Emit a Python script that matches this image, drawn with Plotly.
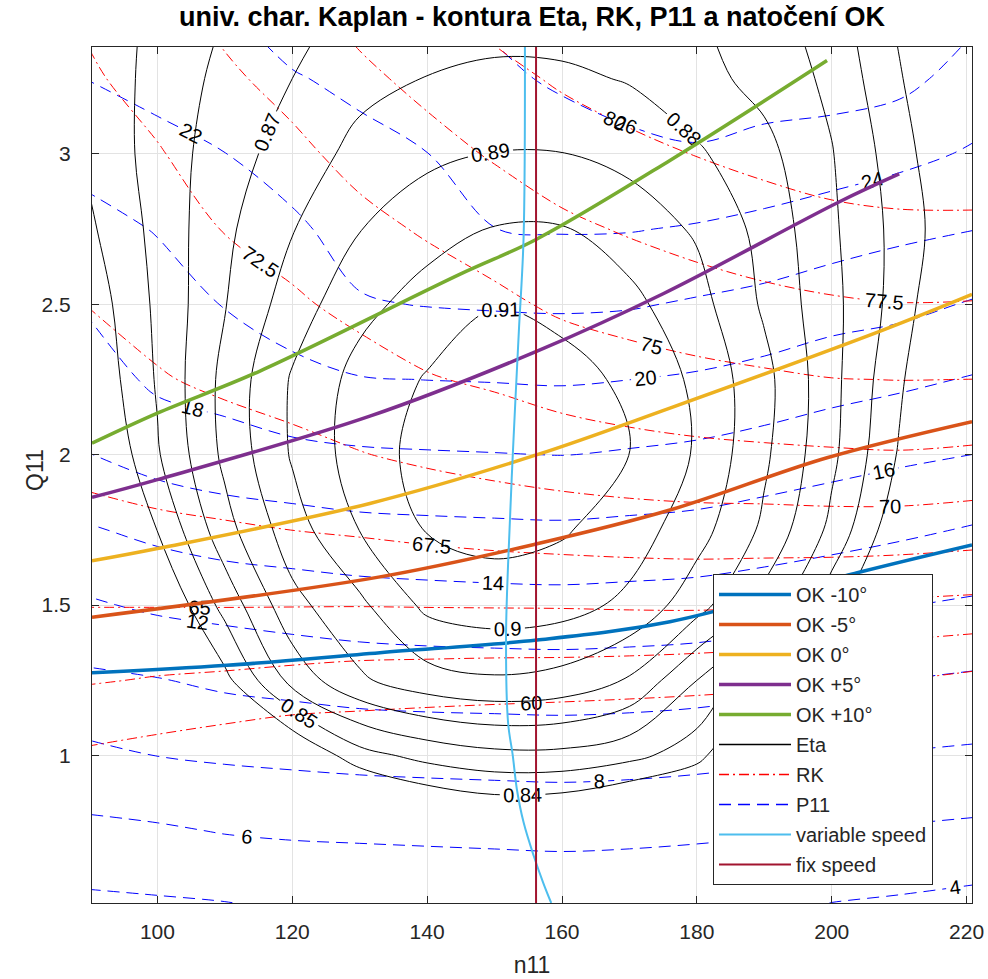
import plotly.graph_objects as go

# ---- grid of the hill chart -------------------------------------------------
N11 = [90, 100, 110, 120, 130, 140, 150, 160, 170, 180, 190, 200, 210, 221]
Q11 = [0.5, 0.75, 1.0, 1.25, 1.5, 1.75, 2.0, 2.25, 2.5, 2.75, 3.0, 3.25, 3.4]

# efficiency Eta, one row per Q11 value (columns follow N11)
ETA = [
    [0.740, 0.750, 0.760, 0.770, 0.780, 0.790, 0.800, 0.800, 0.790, 0.780, 0.770, 0.760, 0.750, 0.730],
    [0.760, 0.770, 0.785, 0.795, 0.808, 0.8195, 0.824, 0.8224, 0.815, 0.805, 0.790, 0.780, 0.770, 0.745],
    [0.775, 0.790, 0.812, 0.828, 0.8462, 0.8533, 0.8572, 0.8573, 0.853, 0.8444, 0.815, 0.800, 0.785, 0.760],
    [0.790, 0.810, 0.837, 0.8635, 0.8785, 0.886, 0.8888, 0.8867, 0.879, 0.860, 0.841, 0.820, 0.800, 0.775],
    [0.810, 0.828, 0.8535, 0.877, 0.8879, 0.9024, 0.9052, 0.9038, 0.8977, 0.884, 0.8663, 0.8437, 0.820, 0.790],
    [0.820, 0.8402, 0.8664, 0.8855, 0.9002, 0.9105, 0.913, 0.911, 0.905, 0.894, 0.878, 0.8575, 0.832, 0.800],
    [0.825, 0.849, 0.8723, 0.891, 0.905, 0.9135, 0.917, 0.916, 0.9103, 0.8989, 0.8818, 0.8623, 0.839, 0.810],
    [0.831, 0.851, 0.873, 0.891, 0.9035, 0.9108, 0.915, 0.9135, 0.9082, 0.898, 0.8831, 0.8631, 0.8419, 0.816],
    [0.834, 0.852, 0.8695, 0.885, 0.897, 0.9042, 0.9097, 0.9072, 0.9025, 0.8938, 0.8785, 0.863, 0.8457, 0.821],
    [0.8385, 0.853, 0.868, 0.8795, 0.8897, 0.896, 0.9005, 0.9006, 0.8955, 0.8888, 0.8768, 0.8617, 0.8465, 0.828],
    [0.842, 0.854, 0.8655, 0.8745, 0.883, 0.8879, 0.8903, 0.8902, 0.8872, 0.8814, 0.873, 0.8605, 0.8445, 0.825],
    [0.8438, 0.853, 0.863, 0.870, 0.877, 0.8803, 0.8822, 0.8819, 0.8793, 0.8733, 0.8669, 0.8577, 0.841, 0.822],
    [0.845, 0.852, 0.861, 0.867, 0.875, 0.876, 0.8775, 0.877, 0.875, 0.8715, 0.865, 0.8558, 0.839, 0.820],
]

# guide vane opening RK
RK = [
    [55.0, 55.5, 56.0, 55.0, 54.5, 54.0, 53.5, 53.0, 52.5, 52.0, 51.5, 51.0, 50.5, 50.0],
    [57.0, 57.3, 57.5, 56.5, 56.0, 55.5, 55.0, 54.8, 54.3, 54.0, 53.7, 53.4, 53.0, 52.5],
    [59.6, 59.08, 58.46, 57.82, 57.69, 57.37, 57.07, 56.7, 56.44, 56.3, 56.02, 55.74, 55.19, 54.65],
    [62.67, 62.34, 62.13, 61.85, 61.59, 61.48, 61.38, 61.33, 61.17, 60.93, 60.65, 60.37, 59.99, 59.39],
    [65.07, 65.08, 65.09, 65.08, 65.07, 65.11, 65.14, 65.17, 65.26, 65.3, 65.16, 64.91, 64.64, 64.41],
    [66.86, 67.1, 67.28, 67.51, 67.76, 68.09, 68.4, 68.63, 68.8, 68.9, 68.9, 68.98, 68.92, 68.62],
    [68.13, 68.54, 68.96, 69.39, 69.91, 70.42, 70.86, 71.29, 71.65, 71.92, 72.09, 72.23, 72.34, 72.13],
    [69.1, 69.84, 70.39, 70.89, 71.58, 72.35, 72.83, 73.49, 73.97, 74.35, 74.65, 74.95, 75.03, 74.99],
    [70.06, 70.71, 71.49, 72.19, 73.07, 73.81, 74.5, 75.39, 75.93, 76.45, 76.92, 77.25, 77.45, 77.4],
    [70.78, 71.53, 72.58, 73.36, 74.38, 75.24, 76.12, 77.04, 77.71, 78.33, 78.84, 79.28, 79.51, 79.53],
    [71.5, 72.34, 73.61, 74.5, 75.69, 76.71, 77.72, 78.68, 79.42, 80.07, 80.64, 81.14, 81.36, 81.39],
    [72.23, 73.33, 74.63, 75.7, 77.02, 78.11, 79.3, 80.31, 81.11, 81.8, 82.4, 83.0, 83.3, 83.3],
    [72.66, 73.96, 75.25, 76.45, 77.8, 78.9, 80.25, 81.2, 82.1, 82.8, 83.4, 84.0, 84.3, 84.3],
]

# unit power P11
P11 = [
    [3.56, 3.71, 3.87, 4.2, 4.25, 4.3, 4.4, 4.5, 4.45, 4.35, 4.25, 3.9, 3.68, 3.36],
    [5.56, 5.76, 6.10, 6.26, 6.35, 6.44, 6.51, 6.57, 6.49, 6.35, 6.17, 6.01, 5.83, 5.64],
    [7.59, 8.02, 8.25, 8.41, 8.57, 8.66, 8.73, 8.79, 8.71, 8.55, 8.31, 8.09, 7.88, 7.68],
    [9.63, 9.91, 10.35, 10.60, 10.86, 10.97, 11.01, 11.05, 10.98, 10.84, 10.55, 10.26, 9.99, 9.75],
    [11.78, 12.33, 12.61, 12.89, 13.09, 13.22, 13.32, 13.37, 13.28, 13.16, 12.88, 12.49, 12.08, 11.74],
    [13.84, 14.47, 14.97, 15.18, 15.45, 15.56, 15.64, 15.70, 15.57, 15.42, 15.09, 14.75, 14.35, 13.85],
    [15.98, 16.76, 17.17, 17.52, 17.76, 17.86, 17.94, 18.03, 17.82, 17.57, 17.14, 16.72, 16.35, 15.99],
    [17.11, 18.36, 18.81, 19.56, 19.91, 20.02, 20.09, 20.18, 20.01, 19.78, 19.35, 18.78, 18.37, 17.87],
    [18.23, 19.21, 20.08, 20.74, 21.85, 22.07, 22.19, 22.26, 22.16, 21.8, 21.44, 20.9, 20.55, 19.84],
    [19.40, 20.1, 21.04, 21.69, 22.71, 23.03, 23.99, 24.13, 24.09, 23.84, 23.44, 22.94, 22.43, 22.04],
    [20.67, 21.37, 21.98, 22.76, 23.49, 23.98, 24.83, 25.19, 25.58, 25.84, 25.5, 25.04, 24.53, 23.79],
    [22.05, 22.63, 22.97, 23.87, 24.39, 25.0, 25.67, 26.24, 26.72, 26.9, 26.76, 26.9, 26.56, 25.19],
    [22.9, 23.35, 23.6, 24.5, 25.0, 25.6, 26.1, 26.8, 27.2, 27.4, 27.3, 27.5, 27.2, 26.0],
]

# runner blade angle lines (OK), n11 / Q11 pairs
OK_NAMES = ["OK -10°", "OK -5°", "OK 0°", "OK +5°", "OK +10°"]
OK_COLORS = ["#0072BD", "#D95319", "#EDB120", "#7E2F8E", "#77AC30"]
OK_N11 = [
    [90.3, 110.3, 133.0, 156.3, 176.0, 204.2, 220.8],
    [90.3, 133.0, 156.3, 176.0, 199.3, 220.8],
    [90.3, 100.0, 131.5, 156.3, 176.0, 207.2, 220.8],
    [90.3, 100.0, 131.5, 156.3, 175.0, 201.0, 210.0],
    [90.3, 100.0, 115.2, 144.9, 156.3, 176.0, 199.3],
]
OK_Q11 = [
    [1.275, 1.30, 1.342, 1.384, 1.445, 1.61, 1.70],
    [1.46, 1.594, 1.704, 1.816, 1.99, 2.11],
    [1.647, 1.688, 1.838, 2.0, 2.155, 2.411, 2.533],
    [1.858, 1.917, 2.128, 2.344, 2.535, 2.839, 2.933],
    [2.038, 2.138, 2.278, 2.60, 2.717, 2.978, 3.31],
]

# operating lines
VAR_Q11 = [3.355, 2.72, 2.41, 2.0, 1.634, 1.39, 1.11, 1.0, 0.889, 0.778, 0.667, 0.578, 0.51]
VAR_N11 = [154.5, 154.3, 153.6, 152.7, 152.0, 151.7, 152.0, 152.7, 153.3, 154.3, 155.8, 157.2, 158.4]
FIX_N11 = 156.15

X_RANGE = [90.3, 220.8]
Y_RANGE = [0.51, 3.355]
FONT = "Liberation Sans, Arial, Helvetica, sans-serif"
AX = "#262626"
LABEL_SIZE = 20

fig = go.Figure()


def contour(z, start, end, step, color, dash, fmt):
    return go.Contour(
        x=N11, y=Q11, z=z,
        autocontour=False,
        contours=dict(start=start, end=end, size=step, coloring="lines",
                      showlabels=True, labelformat=fmt,
                      labelfont=dict(family=FONT, size=LABEL_SIZE, color="black")),
        colorscale=[[0, color], [1, color]],
        showscale=False,
        line=dict(width=1, dash=dash, smoothing=1.0),
        hoverinfo="skip",
        showlegend=False,
    )


fig.add_trace(contour(P11, 4, 26, 2, "#0000FF", "12px,7px", ".0f"))
fig.add_trace(contour(RK, 60, 80, 2.5, "#FF0000", "10px,4px,2px,4px", ".1~f"))
fig.add_trace(contour(ETA, 0.84, 0.91, 0.01, "#000000", "solid", ".2~f"))

rank = 1
for name, col, xs, ys in zip(OK_NAMES, OK_COLORS, OK_N11, OK_Q11):
    fig.add_trace(go.Scatter(x=xs, y=ys, mode="lines", name=name,
                             line=dict(color=col, width=3.5, shape="spline"),
                             legendgroup=name, legendrank=rank))
    rank += 1

for name, col, dash in [("Eta", "#000000", "solid"),
                        ("RK", "#FF0000", "10px,4px,2px,4px"),
                        ("P11", "#0000FF", "12px,7px")]:
    fig.add_trace(go.Scatter(x=[None], y=[None], mode="lines", name=name,
                             line=dict(color=col, width=1.5, dash=dash),
                             legendgroup=name, legendrank=rank))
    rank += 1

fig.add_trace(go.Scatter(x=VAR_N11, y=VAR_Q11, mode="lines", name="variable speed",
                         line=dict(color="#4DBEEE", width=2, shape="spline"),
                         legendgroup="var", legendrank=rank))
rank += 1
fig.add_trace(go.Scatter(x=[FIX_N11, FIX_N11], y=Y_RANGE, mode="lines", name="fix speed",
                         line=dict(color="#A2142F", width=2),
                         legendgroup="fix", legendrank=rank))

axis_common = dict(showline=True, linecolor=AX, linewidth=1, mirror="ticks",
                   ticks="inside", ticklen=7, tickcolor=AX, automargin=False,
                   showgrid=True, gridcolor="#e3e3e3", zeroline=False,
                   tickfont=dict(family=FONT, size=21, color=AX))

fig.update_layout(
    width=988, height=979,
    margin=dict(l=92, r=16, t=47, b=76),
    paper_bgcolor="white", plot_bgcolor="white",
    font=dict(family=FONT, color=AX, size=20),
    title=dict(text="univ. char. Kaplan - kontura Eta, RK, P11 a natočení OK",
               font=dict(family=FONT, size=27, color="black", weight="bold"),
               x=0.5, xref="paper", xanchor="center",
               y=0.983, yref="container", yanchor="middle"),
    xaxis=dict(range=X_RANGE, tickvals=[100, 120, 140, 160, 180, 200, 220],
               ticklabelstandoff=10,
               title=dict(text="n11", font=dict(family=FONT, size=23, color=AX), standoff=14),
               **axis_common),
    yaxis=dict(range=Y_RANGE, tickvals=[1, 1.5, 2, 2.5, 3],
               ticklabelstandoff=16,
               **axis_common),
    annotations=[dict(text="Q11", textangle=-90, xref="paper", yref="paper",
                      x=(35 - 92) / 880, y=(903 - 470) / 856,
                      xanchor="center", yanchor="middle", showarrow=False,
                      font=dict(family=FONT, size=23, color=AX))],
    legend=dict(x=(713 - 92) / 880, y=(903 - 574) / 856, xanchor="left", yanchor="top",
                bgcolor="white", bordercolor=AX, borderwidth=1,
                font=dict(family=FONT, size=20, color=AX),
                tracegroupgap=1, itemwidth=72),
    showlegend=True,
)

fig.write_html("out.html")
